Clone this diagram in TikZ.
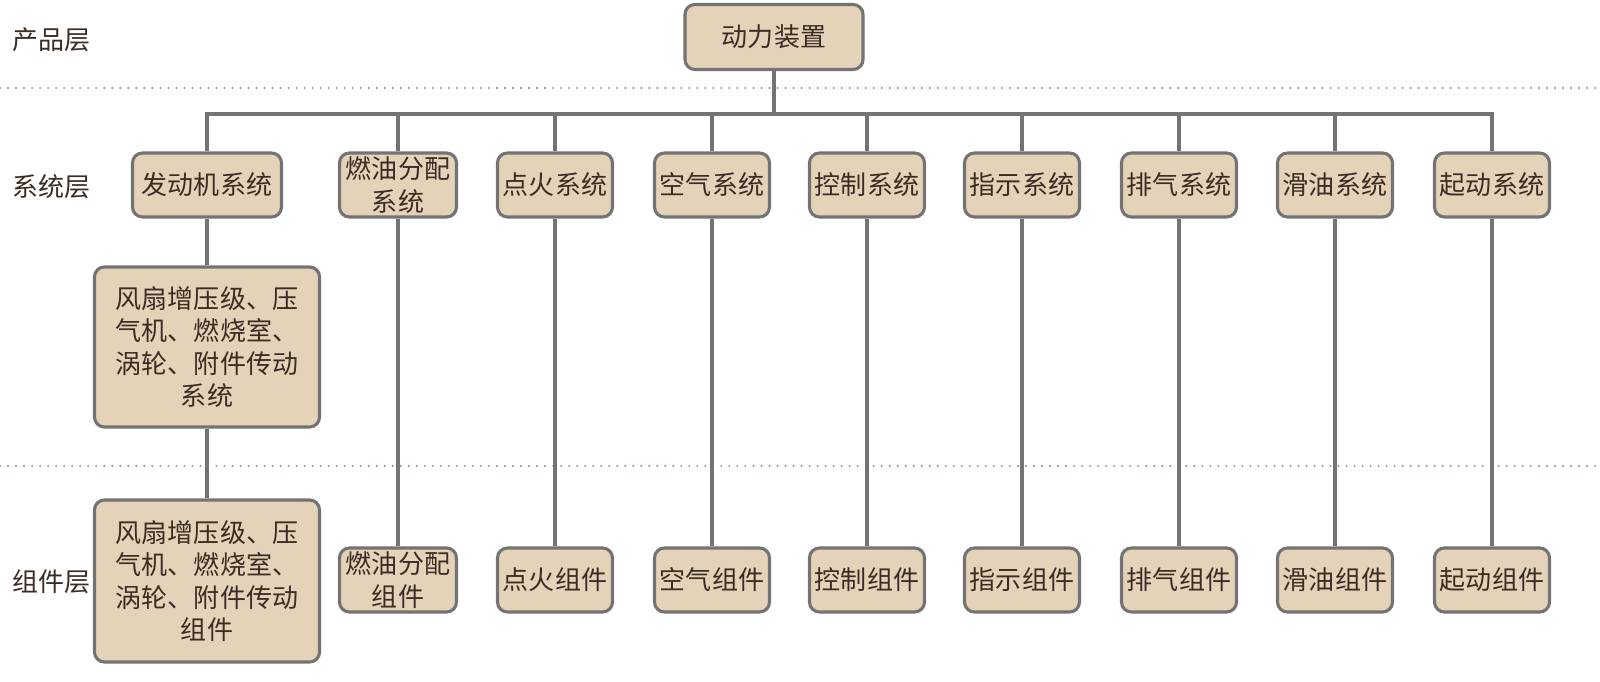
\documentclass[tikz,border=0pt]{standalone}
\usepackage{fontspec}
\newfontfamily\cjk{Noto Sans CJK SC}
\usetikzlibrary{positioning}
\definecolor{boxfill}{HTML}{E4D3B9}
\definecolor{boxline}{HTML}{737373}
\definecolor{sepline}{HTML}{A48463}
\definecolor{txt}{HTML}{3B2C24}

\begin{document}
\begin{tikzpicture}[x=0.025cm, y=-0.025cm,
	every node/.style={font=\cjk\fontsize{18.5}{23}\selectfont, text=txt},
	box/.style={draw=boxline, line width=2.2pt, fill=boxfill, rounded corners=0.25cm, align=center, inner sep=0pt, minimum width=2.875cm, minimum height=1.6cm},
	link/.style={draw=boxline, line width=2.4pt},
	sep/.style={draw=sepline, line width=1.5pt, line cap=round, dash pattern=on 0pt off 5.7pt}]
	\useasboundingbox (0,0) rectangle (1600,682);
	% layers
	\node [anchor=west] (Lprod) at (8,40) {产品层};
	\node [anchor=west] (Lsys) at (8,187) {系统层};
	\node [anchor=west] (Lcomp) at (8,582) {组件层};
	\draw[sep] (0,88) -- (1600,88);
	\draw[sep] (0,466) -- (1600,466);
	% product
	\node (Top) at (774,37) [box,minimum width=4.45cm,minimum height=1.625cm] {动力装置};
	\coordinate (Bus) at (774,114);
	% systems
	\node (S1) at (207,185) [box,minimum width=3.725cm] {发动机系统};
	\node (S2) at (398,185) [box,minimum width=2.925cm] {燃油分配\\系统};
	\node (S3) at (555,185) [box] {点火系统};
	\node (S4) at (712,185) [box] {空气系统};
	\node (S5) at (867,185) [box] {控制系统};
	\node (S6) at (1022,185) [box] {指示系统};
	\node (S7) at (1179,185) [box] {排气系统};
	\node (S8) at (1335,185) [box] {滑油系统};
	\node (S9) at (1492,185) [box] {起动系统};
	\node (E1) at (207,347) [box,minimum width=5.625cm,minimum height=4cm] {风扇增压级、压\\气机、燃烧室、\\涡轮、附件传动\\系统};
	% components
	\node (C1) at (207,581) [box,minimum width=5.625cm,minimum height=4.05cm] {风扇增压级、压\\气机、燃烧室、\\涡轮、附件传动\\组件};
	\node (C2) at (398,580) [box,minimum width=2.925cm] {燃油分配\\组件};
	\node (C3) at (555,580) [box] {点火组件};
	\node (C4) at (712,580) [box] {空气组件};
	\node (C5) at (867,580) [box] {控制组件};
	\node (C6) at (1022,580) [box] {指示组件};
	\node (C7) at (1179,580) [box] {排气组件};
	\node (C8) at (1335,580) [box] {滑油组件};
	\node (C9) at (1492,580) [box] {起动组件};
	% tree
	\draw[link] (Top) -- (Top.south |- Bus);
	\draw[link] (Top.south |- Bus) -| (S1.north);
	\draw[link] (Top.south |- Bus) -| (S2.north);
	\draw[link] (Top.south |- Bus) -| (S3.north);
	\draw[link] (Top.south |- Bus) -| (S4.north);
	\draw[link] (Top.south |- Bus) -| (S5.north);
	\draw[link] (Top.south |- Bus) -| (S6.north);
	\draw[link] (Top.south |- Bus) -| (S7.north);
	\draw[link] (Top.south |- Bus) -| (S8.north);
	\draw[link] (Top.south |- Bus) -| (S9.north);
	\draw[link] (S1) -- (E1);
	\draw[link] (E1) -- (C1);
	\draw[link] (S2) -- (C2);
	\draw[link] (S3) -- (C3);
	\draw[link] (S4) -- (C4);
	\draw[link] (S5) -- (C5);
	\draw[link] (S6) -- (C6);
	\draw[link] (S7) -- (C7);
	\draw[link] (S8) -- (C8);
	\draw[link] (S9) -- (C9);
\end{tikzpicture}
\end{document}
